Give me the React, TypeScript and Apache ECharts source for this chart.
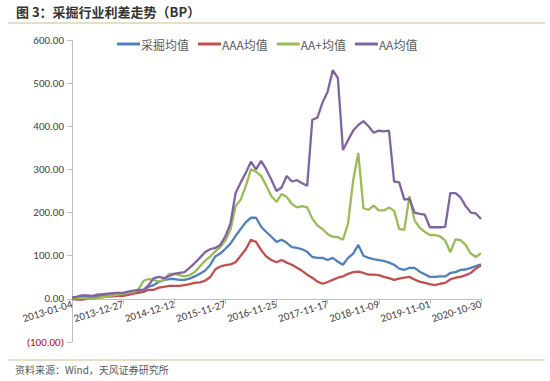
import React, { useEffect, useRef } from "react";
import * as echarts from "echarts";

const tickDates = [
  "2013-01-04", "2013-12-27", "2014-12-12", "2015-11-27", "2016-11-25",
  "2017-11-17", "2018-11-09", "2019-11-01", "2020-10-30",
];

const seriesNames = ["采掘均值", "AAA均值", "AA+均值", "AA均值"];
const seriesColors = ["#4F81BD", "#C0504D", "#9BBB59", "#8064A2"];

// 采掘均值 (blue)
const miningAvg = [
  2, 3, 4, 4, 5, 6, 7, 7, 9, 10,
  12, 14, 16, 19, 20, 28, 32, 39, 44, 46,
  46, 44, 44, 47, 52, 58, 65, 78, 98, 105,
  116, 128, 146, 162, 178, 188, 188, 167, 155, 144,
  132, 137, 130, 120, 118, 115, 109, 97, 95, 95,
  90, 95, 86, 79, 95, 105, 125, 100, 95, 92,
  90, 88, 84, 79, 70, 67, 72, 72, 63, 57,
  51, 51, 52, 52, 60, 62, 67, 68, 72, 76,
  80,
];

// AAA均值 (red)
const aaaAvg = [
  0, -2, -2, 0, 1, 3, 4, 5, 6, 7,
  7, 9, 12, 14, 16, 21, 21, 26, 28, 30,
  30, 30, 32, 34, 37, 38, 42, 50, 68, 75,
  78, 80, 85, 100, 115, 137, 132, 113, 98, 90,
  85, 90, 84, 79, 72, 65, 56, 49, 40, 35,
  39, 44, 49, 52, 58, 62, 63, 60, 56, 56,
  55, 51, 48, 44, 47, 49, 51, 45, 40, 37,
  34, 32, 35, 37, 45, 49, 51, 55, 60, 70,
  78,
];

// AA+均值 (green)
const aaPlusAvg = [
  2, 2, 2, 1, 0, 2, 4, 5, 8, 10,
  12, 14, 16, 22, 42, 46, 44, 40, 44, 58,
  58, 55, 52, 55, 62, 75, 88, 98, 110, 120,
  135, 160, 215, 230, 262, 300, 295, 285, 262, 238,
  225, 243, 236, 220, 212, 215, 212, 186, 170, 162,
  150, 144, 143, 137, 175, 275, 338, 210, 206, 216,
  205, 205, 212, 204, 162, 160, 238, 182, 165, 155,
  148, 148, 145, 135, 108, 138, 136, 125, 105, 97,
  106,
];

// AA均值 (purple)
const aaAvg = [
  3, 5, 8, 8, 7, 10, 11, 12, 13, 14,
  14, 17, 19, 21, 21, 32, 48, 51, 48, 53,
  58, 60, 62, 72, 83, 95, 108, 115, 118, 125,
  145, 175, 245, 270, 292, 318, 300, 320, 300, 276,
  250, 258, 285, 272, 275, 268, 262, 415, 420, 455,
  480, 530, 512, 345, 368, 390, 403, 412, 400, 385,
  390, 388, 390, 272, 270, 230, 232, 200, 197, 195,
  166, 166, 166, 167, 245, 245, 235, 215, 200, 198,
  185,
];

const pointsPerTick = 10;

function pad(n: number) {
  return n < 10 ? "0" + n : "" + n;
}
function fmt(d: Date) {
  return d.getUTCFullYear() + "-" + pad(d.getUTCMonth() + 1) + "-" + pad(d.getUTCDate());
}

const categories: string[] = [];
for (let k = 0; k < tickDates.length - 1; k++) {
  const d0 = Date.parse(tickDates[k] + "T00:00:00Z");
  const d1 = Date.parse(tickDates[k + 1] + "T00:00:00Z");
  for (let j = 0; j < pointsPerTick; j++) {
    if (j === 0) categories.push(tickDates[k]);
    else categories.push(fmt(new Date(d0 + ((d1 - d0) * j) / pointsPerTick)));
  }
}
categories.push(tickDates[tickDates.length - 1]);

const allSeries = [miningAvg, aaaAvg, aaPlusAvg, aaAvg];

const Y_MIN = -100;
const Y_MAX = 600;
const GRID_TOP = 40;
const GRID_BOTTOM = 39;
const CHART_H = 381;

export default function App() {
  const ref = useRef<HTMLDivElement>(null);
  useEffect(() => {
    if (!ref.current) return;
    const chart = echarts.init(ref.current, undefined, { renderer: "svg" });
    const font = "'Noto Sans CJK SC', 'Noto Sans', sans-serif";
    const plotH = CHART_H - GRID_TOP - GRID_BOTTOM;
    const zeroOffset = -((0 - Y_MIN) / (Y_MAX - Y_MIN)) * plotH;
    chart.setOption({
      animation: false,
      backgroundColor: "#ffffff",
      textStyle: { fontFamily: font },
      grid: { left: 72, right: 69, top: GRID_TOP, bottom: GRID_BOTTOM, containLabel: false },
      legend: {
        data: seriesNames,
        left: 117,
        top: 38,
        padding: 0,
        icon: "rect",
        itemWidth: 23,
        itemHeight: 3,
        itemGap: 9,
        textStyle: { fontSize: 12, color: "#595959", fontFamily: font, padding: [0, 0, 0, -4] },
      },
      xAxis: {
        type: "category",
        data: categories,
        boundaryGap: false,
        position: "bottom",
        offset: zeroOffset,
        axisLine: { onZero: false, lineStyle: { color: "#bfbfbf", width: 1 } },
        axisTick: { show: true, interval: pointsPerTick - 1, length: 5, lineStyle: { color: "#bfbfbf" } },
        axisLabel: {
          interval: pointsPerTick - 1,
          rotate: 17,
          margin: 5,
          fontSize: 11,
          color: "#404040",
          fontFamily: "Calibri, 'Liberation Sans', 'Noto Sans', sans-serif",
        },
        splitLine: { show: false },
      },
      yAxis: {
        type: "value",
        min: Y_MIN,
        max: Y_MAX,
        interval: 100,
        axisLine: { show: true, lineStyle: { color: "#bfbfbf", width: 1 } },
        axisTick: { show: true, length: 5, lineStyle: { color: "#bfbfbf" } },
        splitLine: { show: false },
        axisLabel: {
          margin: 8,
          fontSize: 11,
          fontFamily: "Calibri, 'Liberation Sans', 'Noto Sans', sans-serif",
          formatter: (v: number) => (v < 0 ? "(" + Math.abs(v).toFixed(2) + ")" : v.toFixed(2)),
          color: (v: any) => (Number(v) < 0 ? "#C00000" : "#404040"),
        },
      },
      series: allSeries.map((d, i) => ({
        name: seriesNames[i],
        type: "line",
        data: d,
        symbol: "none",
        smooth: false,
        lineStyle: { color: seriesColors[i], width: 2.3 },
        itemStyle: { color: seriesColors[i] },
      })),
      graphic: [
        {
          type: "text",
          left: 16,
          top: 5,
          style: {
            text: "图 3：采掘行业利差走势（BP）",
            font: "bold 13px 'Noto Sans CJK SC', sans-serif",
            fill: "#333333",
          },
        },
        {
          type: "line",
          shape: { x1: 8, y1: 23, x2: 545, y2: 23 },
          style: { stroke: "#ddd3b0", lineWidth: 1.5 },
        },
        {
          type: "line",
          shape: { x1: 8, y1: 360, x2: 545, y2: 360 },
          style: { stroke: "#ddd3b0", lineWidth: 1.5 },
        },
        {
          type: "text",
          left: 15,
          top: 364,
          style: {
            text: "资料来源：Wind，天风证券研究所",
            font: "10px 'Noto Sans CJK SC', sans-serif",
            fill: "#595959",
          },
        },
      ],
    });
    return () => chart.dispose();
  }, []);
  return (
    <div
      ref={ref}
      style={{ position: "absolute", left: 0, top: 0, width: 550, height: 381 }}
    />
  );
}
